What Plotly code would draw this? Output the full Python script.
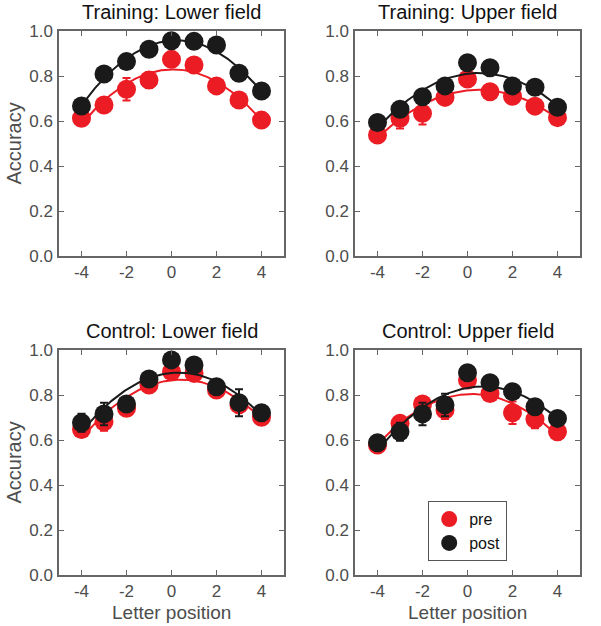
import numpy as np
import plotly.graph_objects as go

positions = [-4, -3, -2, -1, 0, 1, 2, 3, 4]
x_ticks = [-4, -2, 0, 2, 4]
x_tick_labels = ["-4", "-2", "0", "2", "4"]
y_ticks = [0.0, 0.2, 0.4, 0.6, 0.8, 1.0]
titles = ["Training: Lower field", "Training: Upper field",
          "Control: Lower field", "Control: Upper field"]

# Training: Lower field
tl_pre = [0.612, 0.671, 0.741, 0.782, 0.874, 0.849, 0.756, 0.693, 0.604]
tl_pre_err = [0.02, 0.02, 0.05, 0.035, 0.02, 0.02, 0.02, 0.02, 0.02]
tl_post = [0.667, 0.809, 0.864, 0.919, 0.957, 0.954, 0.938, 0.812, 0.733]
tl_post_err = [0.02, 0.02, 0.02, 0.02, 0.02, 0.02, 0.02, 0.03, 0.02]
# Training: Upper field
tu_pre = [0.538, 0.612, 0.634, 0.705, 0.787, 0.730, 0.710, 0.666, 0.615]
tu_pre_err = [0.02, 0.045, 0.05, 0.02, 0.02, 0.02, 0.02, 0.02, 0.02]
tu_post = [0.593, 0.652, 0.708, 0.756, 0.859, 0.837, 0.756, 0.750, 0.661]
tu_post_err = [0.02, 0.02, 0.02, 0.02, 0.02, 0.02, 0.02, 0.02, 0.02]
# Control: Lower field
cl_pre = [0.647, 0.681, 0.741, 0.844, 0.904, 0.896, 0.822, 0.756, 0.701]
cl_pre_err = [0.03, 0.04, 0.02, 0.02, 0.02, 0.02, 0.02, 0.02, 0.02]
cl_post = [0.677, 0.716, 0.760, 0.871, 0.956, 0.933, 0.837, 0.766, 0.721]
cl_post_err = [0.04, 0.05, 0.02, 0.02, 0.02, 0.02, 0.02, 0.06, 0.02]
# Control: Upper field
cu_pre = [0.578, 0.674, 0.760, 0.733, 0.867, 0.807, 0.721, 0.692, 0.637]
cu_pre_err = [0.02, 0.02, 0.02, 0.04, 0.02, 0.02, 0.05, 0.04, 0.02]
cu_post = [0.588, 0.637, 0.716, 0.756, 0.899, 0.855, 0.815, 0.748, 0.696]
cu_post_err = [0.03, 0.04, 0.05, 0.05, 0.02, 0.03, 0.02, 0.03, 0.02]

panels = [
    (tl_pre, tl_pre_err, tl_post, tl_post_err),
    (tu_pre, tu_pre_err, tu_post, tu_post_err),
    (cl_pre, cl_pre_err, cl_post, cl_post_err),
    (cu_pre, cu_pre_err, cu_post, cu_post_err),
]

RED = "#ec1c24"
BLACK = "#1a1a1a"
AXIS = "#666666"
TICKFONT = "#4d4d4d"
FONT = "Liberation Sans, Arial, sans-serif"

W, H = 601, 626


def px(x):
    return x / W


def py(y):
    return (H - y) / H


xdom = [[px(59), px(284)], [px(355), px(580)]]
ydom = [[py(256), py(31)], [py(575), py(350)]]

fig = go.Figure()
xfine = np.linspace(-4, 4, 161)

for i, (pre, pre_e, post, post_e) in enumerate(panels):
    n = i + 1
    xa = "x" if n == 1 else f"x{n}"
    ya = "y" if n == 1 else f"y{n}"
    for vals, errs, col, name in [(pre, pre_e, RED, "pre"), (post, post_e, BLACK, "post")]:
        coef = np.polyfit(positions, vals, 2)
        fig.add_trace(go.Scatter(x=xfine, y=np.polyval(coef, xfine), mode="lines",
                                 line=dict(color=col, width=2), xaxis=xa, yaxis=ya,
                                 showlegend=False, hoverinfo="skip"))
        fig.add_trace(go.Scatter(x=positions, y=vals, mode="markers", name=name,
                                 marker=dict(color=col, size=19, line=dict(width=0)),
                                 error_y=dict(type="data", array=errs, color=col,
                                              thickness=2, width=4),
                                 xaxis=xa, yaxis=ya, showlegend=(n == 4)))
    r, c = divmod(i, 2)
    axis_common = dict(showline=True, linecolor=AXIS, linewidth=1.5, mirror="ticks",
                       ticks="inside", ticklen=5, tickcolor=AXIS, tickwidth=1.2,
                       showgrid=False, zeroline=False, automargin=False,
                       tickfont=dict(family=FONT, size=17, color=TICKFONT))
    fig.layout[f"xaxis{'' if n == 1 else n}"] = dict(
        domain=xdom[c], range=[-5, 5], tickvals=x_ticks, ticktext=x_tick_labels,
        anchor=ya, ticklabelstandoff=0, **axis_common)
    fig.layout[f"yaxis{'' if n == 1 else n}"] = dict(
        domain=ydom[r], range=[0, 1], tickvals=y_ticks, tickformat=".1f", anchor=xa,
        ticklabelstandoff=1, **axis_common)
    fig.add_annotation(text=titles[i], xref="paper", yref="paper",
                       x=sum(xdom[c]) / 2, y=ydom[r][1] + 19 / H, xanchor="center",
                       yanchor="middle", showarrow=False,
                       font=dict(family=FONT, size=20, color="#111111"))
    if c == 0:
        fig.add_annotation(text="Accuracy", xref="paper", yref="paper",
                           x=px(13), y=sum(ydom[r]) / 2, xanchor="center",
                           yanchor="middle", textangle=-90, showarrow=False,
                           font=dict(family=FONT, size=20, color=TICKFONT))
    if r == 1:
        fig.add_annotation(text="Letter position", xref="paper", yref="paper",
                           x=sum(xdom[c]) / 2, y=py(612), xanchor="center",
                           yanchor="middle", showarrow=False,
                           font=dict(family=FONT, size=19, color=TICKFONT))

fig.update_layout(
    width=W, height=H, margin=dict(l=0, r=0, t=0, b=0, autoexpand=False),
    paper_bgcolor="white", plot_bgcolor="white",
    legend=dict(x=px(428), y=py(501), xanchor="left", yanchor="top",
                bordercolor="#555555", borderwidth=1.2, bgcolor="white",
                font=dict(family=FONT, size=16, color="#111111"),
                itemwidth=30, tracegroupgap=0),
)

fig.write_html("out.html", config={"displayModeBar": False},
               post_script="document.body.style.margin='0';document.body.style.padding='0';")
